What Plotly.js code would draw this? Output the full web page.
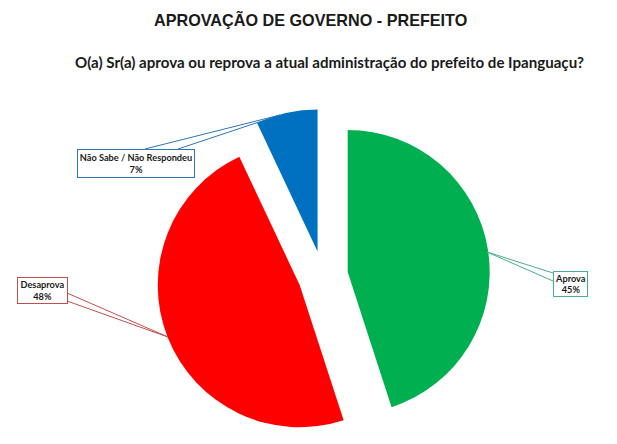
<!DOCTYPE html>
<html>
<head>
<meta charset="utf-8">
<script src="https://cdn.plot.ly/plotly-3.0.1.min.js"></script>
<style>
  body { margin: 0; background: #fff; }
  #chart { width: 617px; height: 444px; }
</style>
</head>
<body>
<div id="chart"></div>
<script>
var labels = ['Aprova', 'Desaprova', 'Não Sabe / Não Respondeu'];
var values = [45, 48, 7];
var colors = ['#00B050', '#FF0000', '#0070C0'];
var borderColors = ['#4BAE86', '#C0504D', '#2E75B6'];

var W = 617, H = 444;
// pixel -> paper helpers (margins are zero)
function px(x) { return x / W; }
function py(y) { return 1 - y / H; }

// where each callout box sits, and its leader wedge (pixels)
var boxes = [
    { cx: 570.5, cy: 284, w: 35, h: 26 },
    { cx: 42.5, cy: 290.5, w: 51, h: 27 },
    { cx: 136, cy: 163, w: 118, h: 29 }
];
var wedges = [
    [[553, 273], [487, 252], [553, 281]],
    [[67, 293], [168, 337], [67, 301]],
    [[145, 149], [280, 115], [178, 149]]
];

var data = [{
    type: 'pie',
    values: values,
    labels: labels,
    sort: false,
    direction: 'clockwise',
    rotation: 0,
    pull: [0.176, 0.176, 0.176],
    marker: { colors: colors, line: { width: 0 } },
    textinfo: 'none',
    hoverinfo: 'label+percent',
    showlegend: false,
    domain: { x: [px(156), px(490)], y: [py(443), py(109)] }
}];

var annotations = [
    {
        text: 'APROVAÇÃO DE GOVERNO - PREFEITO',
        xref: 'paper', yref: 'paper', x: px(310), y: py(20),
        xanchor: 'center', yanchor: 'middle', showarrow: false,
        font: { family: 'Liberation Sans, Arial, sans-serif', size: 16.2, color: '#1a1a1a', weight: 'bold' }
    },
    {
        text: 'O(a) Sr(a) aprova ou reprova a atual administração do prefeito de Ipanguaçu?',
        xref: 'paper', yref: 'paper', x: px(330), y: py(62),
        xanchor: 'center', yanchor: 'middle', showarrow: false,
        font: { family: 'Lato, Open Sans, sans-serif', size: 15.1, color: '#1a1a1a', weight: 'bold' }
    }
];

var shapes = [];
for (var i = 0; i < labels.length; i++) {
    var b = boxes[i];
    annotations.push({
        text: labels[i] + '<br>' + values[i] + '%',
        xref: 'paper', yref: 'paper', x: px(b.cx), y: py(b.cy),
        xanchor: 'center', yanchor: 'middle', showarrow: false, align: 'center',
        width: b.w - 2, height: b.h - 2, borderpad: 0,
        bordercolor: borderColors[i], borderwidth: 1, bgcolor: '#fff',
        font: { family: 'Lato, Open Sans, sans-serif', size: 9.2, color: '#1a1a1a', weight: 'bold' }
    });
    var p = wedges[i];
    shapes.push({
        type: 'path', xref: 'paper', yref: 'paper',
        path: 'M' + px(p[0][0]) + ',' + py(p[0][1]) + ' L' + px(p[1][0]) + ',' + py(p[1][1]) +
              ' L' + px(p[2][0]) + ',' + py(p[2][1]),
        line: { color: borderColors[i], width: 1 }
    });
}

var layout = {
    width: W,
    height: H,
    margin: { l: 0, r: 0, t: 0, b: 0 },
    paper_bgcolor: '#fff',
    annotations: annotations,
    shapes: shapes
};

Plotly.newPlot('chart', data, layout, { displayModeBar: false, staticPlot: true });
</script>
</body>
</html>
